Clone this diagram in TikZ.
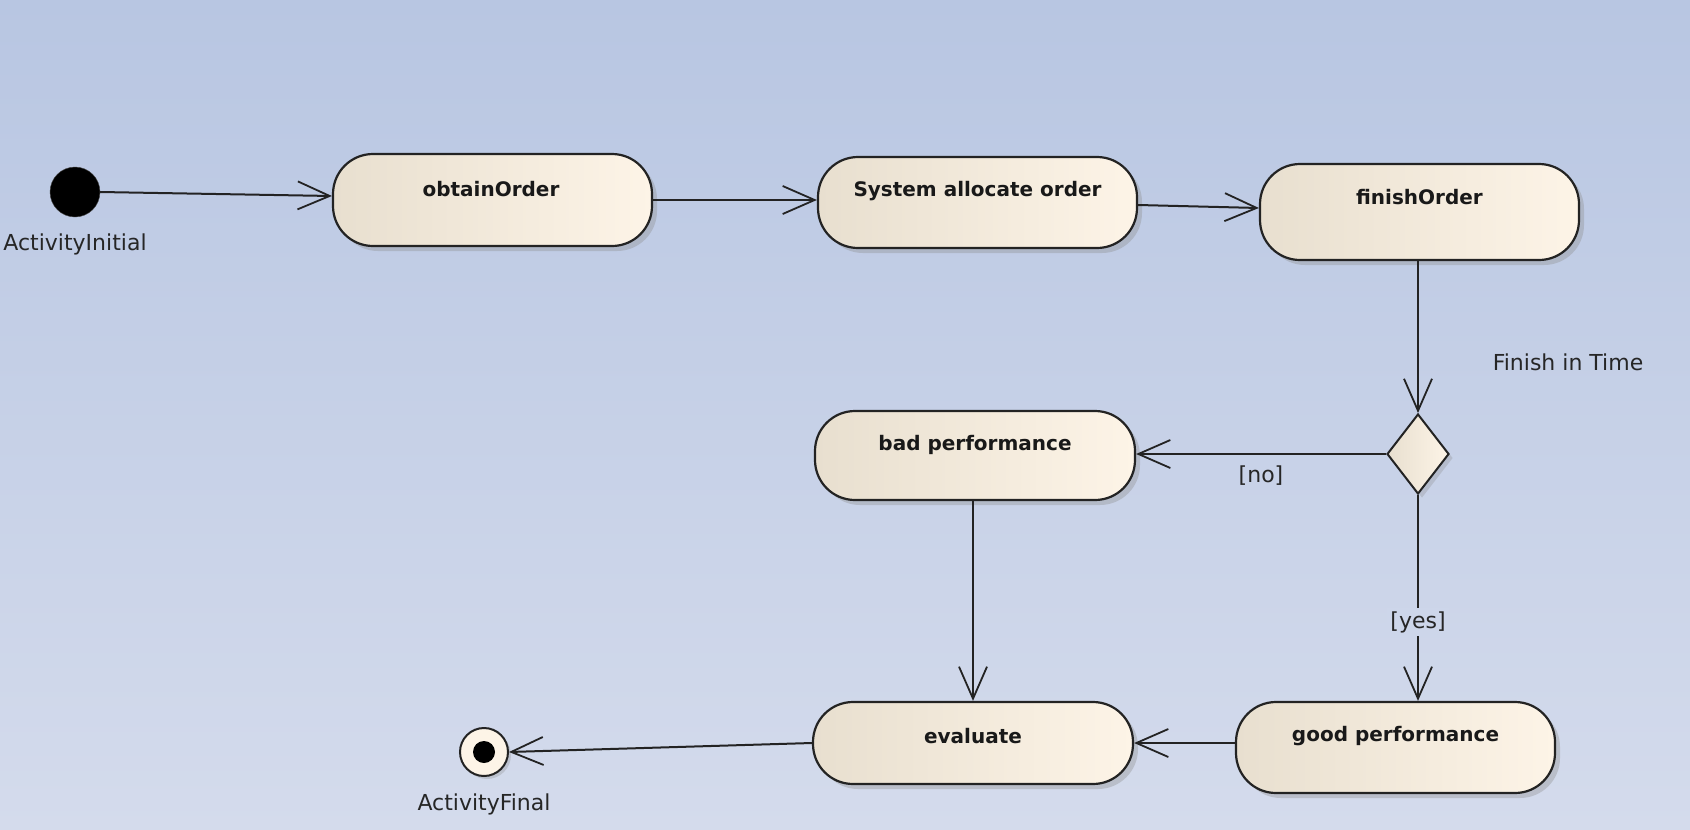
\documentclass[tikz,border=0pt]{standalone}
\usepackage{fontspec}
\setmainfont{DejaVu Sans}
\usetikzlibrary{arrows.meta,shapes.geometric,shadows}
\definecolor{bgtop}{RGB}{184,198,226}
\definecolor{bgbot}{RGB}{212,219,236}
\definecolor{bgmid}{RGB}{205,214,234}
\definecolor{boxl}{RGB}{232,223,207}
\definecolor{boxr}{RGB}{253,244,231}
\definecolor{edge}{RGB}{35,35,35}
\tikzset{
  actbox/.style={draw=edge, line width=2.2pt, rounded corners=40pt,
    left color=boxl, right color=boxr,
    drop shadow={shadow xshift=5pt, shadow yshift=-5pt, fill=black!45, opacity=0.35}},
  acttext/.style={font=\fontsize{20}{24}\selectfont\bfseries, text=black!90, inner sep=0pt},
  lbl/.style={font=\fontsize{22}{26}\selectfont, text=black!85, inner sep=1pt},
  flow/.style={draw=edge, line width=2pt, -{Straight Barb[length=32pt, width=28pt, line width=1.8pt]}},
  decision/.style={diamond, draw=edge, line width=2pt, left color=boxl, right color=boxr,
    minimum width=62pt, minimum height=80pt, inner sep=0pt, aspect=0.78,
    drop shadow={shadow xshift=4pt, shadow yshift=-4pt, fill=black!45, opacity=0.3}}
}
\begin{document}
\begin{tikzpicture}[x=1pt,y=-1pt]
\useasboundingbox (0,0) rectangle (1690,830);
\fill[top color=bgtop, bottom color=bgbot] (0,0) rectangle (1690,830);

% initial and final
\node[circle, fill=black, draw=black!70, minimum size=50pt, inner sep=0pt] (init) at (75,192) {};
\node[lbl] (initlbl) at (75,244) {ActivityInitial};
\node[circle, draw=edge, line width=2pt, fill=boxr, minimum size=48pt, inner sep=0pt,
  drop shadow={shadow xshift=3pt, shadow yshift=-3pt, fill=black!45, opacity=0.3}] (final) at (484,752) {};
\node[circle, fill=black, minimum size=22pt, inner sep=0pt] (finaldot) at (final) {};
\node[lbl] (finallbl) at (484,804) {ActivityFinal};

% activities
\node[actbox, minimum width=319pt, minimum height=92pt] (obtain) at (492.5,200) {};
\node[acttext] (obtaint) at (491,189) {obtainOrder};
\node[actbox, minimum width=319pt, minimum height=91pt] (sao) at (977.5,202.5) {};
\node[acttext] (saot) at (977.5,191) {System allocate order};
\node[actbox, minimum width=319pt, minimum height=96pt] (finish) at (1419.5,212) {};
\node[acttext] (finisht) at (1419.5,197) {finishOrder};
\node[actbox, minimum width=320pt, minimum height=89pt] (bad) at (975,455.5) {};
\node[acttext] (badt) at (975,445) {bad performance};
\node[actbox, minimum width=320pt, minimum height=82pt] (eval) at (973,743) {};
\node[acttext] (evalt) at (973,736) {evaluate};
\node[actbox, minimum width=319pt, minimum height=91pt] (good) at (1395.5,747.5) {};
\node[acttext] (goodt) at (1395.5,736) {good performance};

% decision
\node[decision] (dec) at (1418,454) {};
\node[lbl] (dect) at (1568,362) {Finish in Time};

% flows
\draw[flow] (init.east) -- ([yshift=4pt]obtain.west);
\draw[flow] (obtain.east) -- (sao.west |- obtain.east);
\draw[flow] ([yshift=-2.5pt]sao.east) -- ([yshift=4pt]finish.west);
\draw[flow] (finish.south -| dec.north) -- (dec.north);
\draw[flow] (dec.west) -- (bad.east |- dec.west);
\draw[flow] (dec.south) -- (good.north -| dec.south);
\draw[flow] (bad.south -| eval.north) -- (eval.north);
\draw[flow] (good.west |- eval.east) -- (eval.east);
\draw[flow] (eval.west) -- (final.east);

% guards
\node[lbl] (nolbl) at (1261,476) {[no]};
\node[lbl, fill=bgmid, inner sep=3pt] (yeslbl) at (1418,622) {[yes]};
\end{tikzpicture}
\end{document}
